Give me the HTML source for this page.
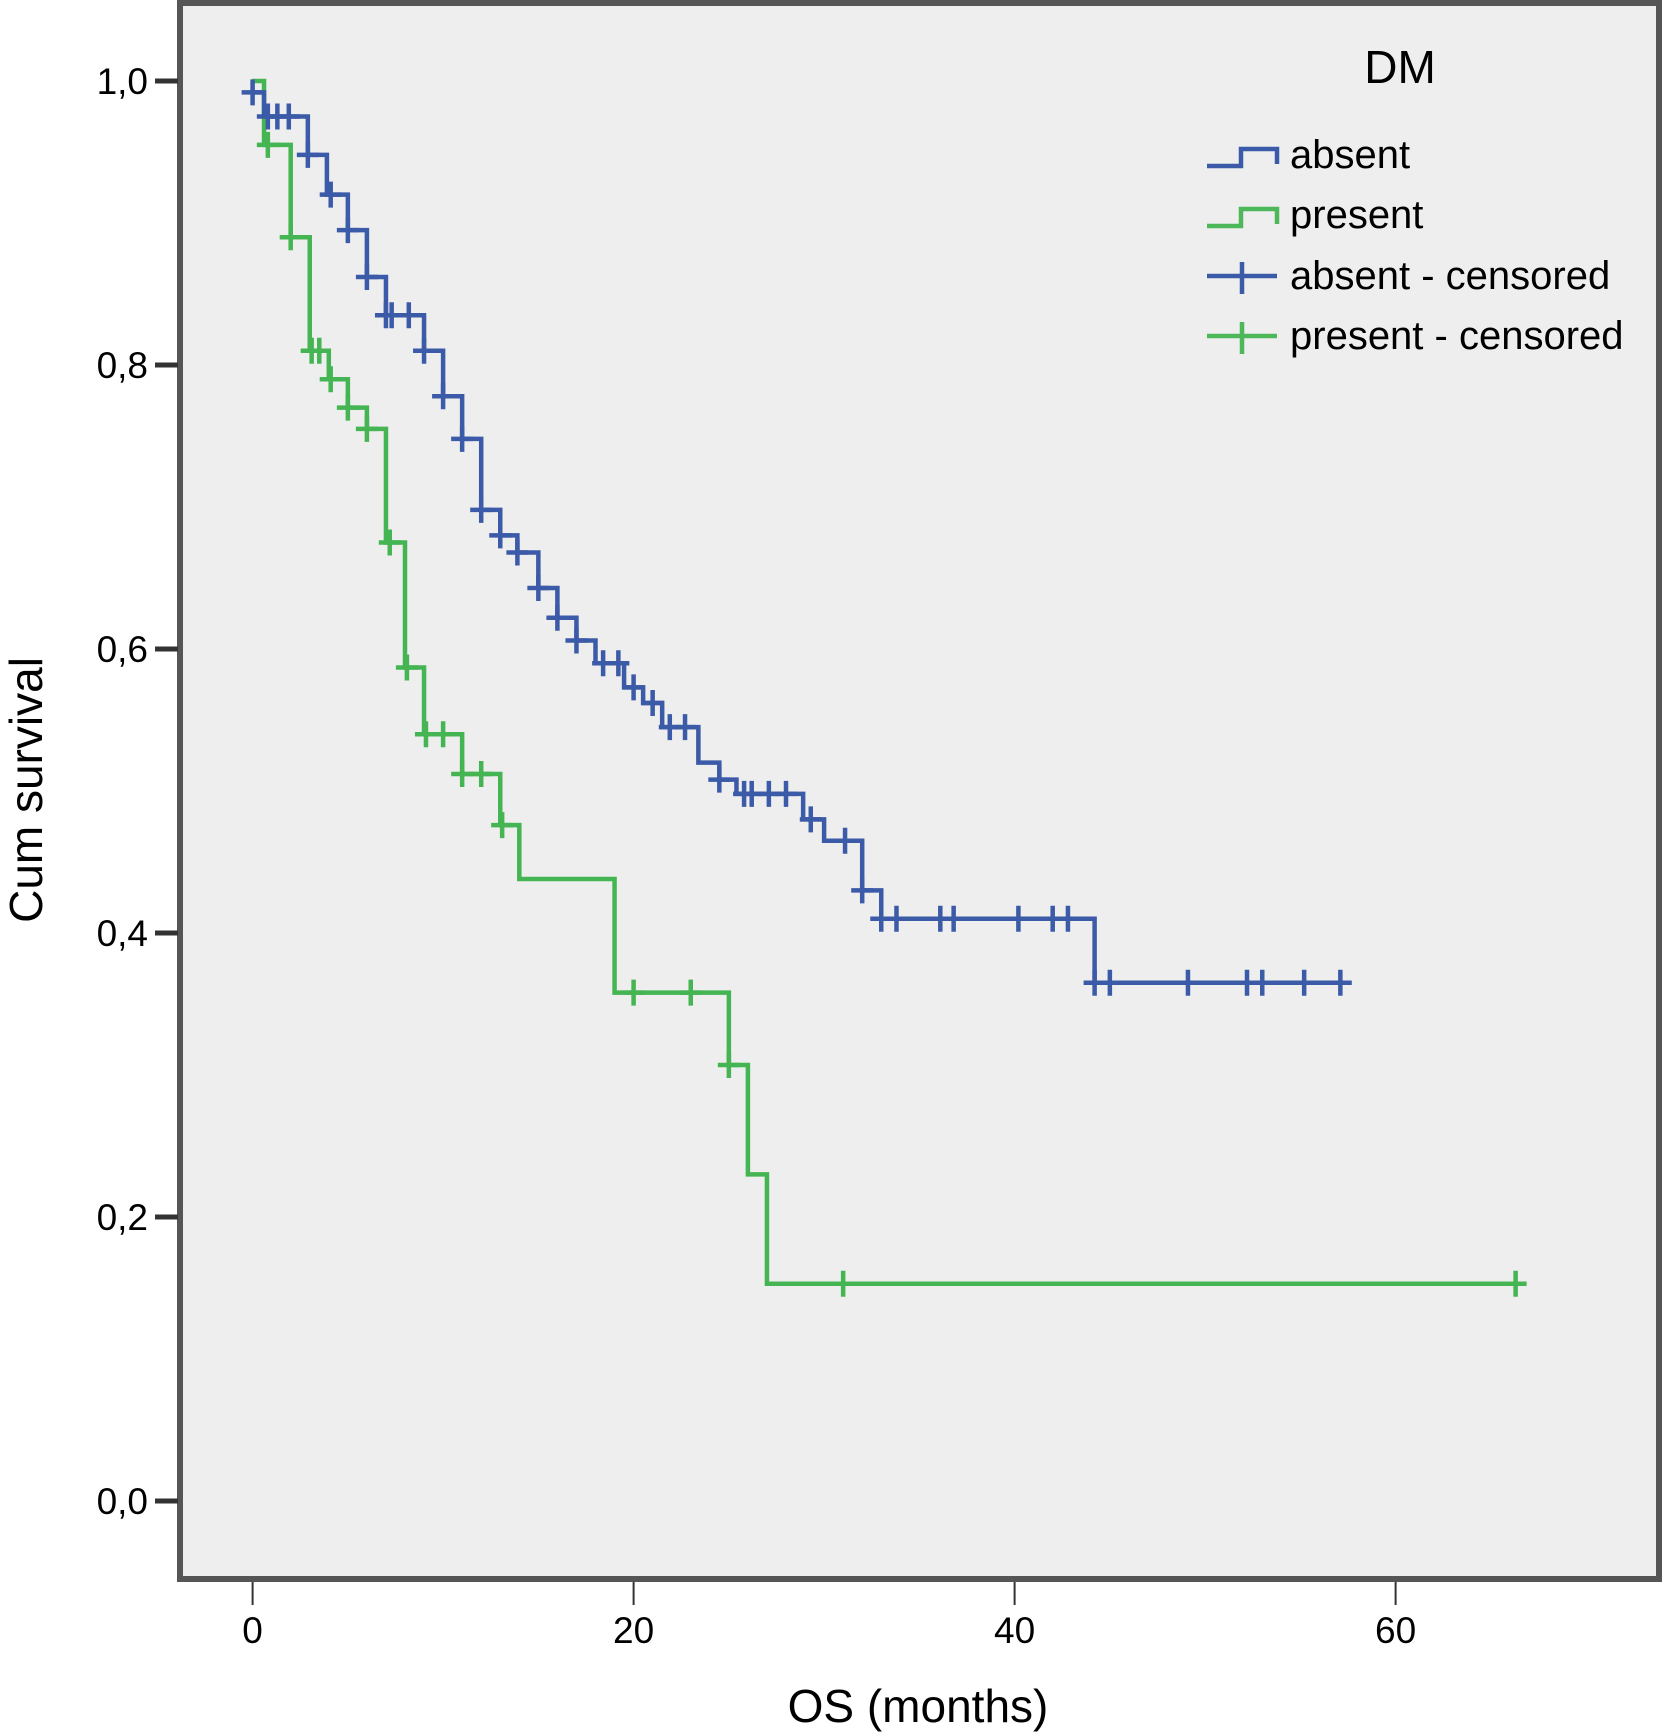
<!DOCTYPE html>
<html><head><meta charset="utf-8"><style>
body{margin:0;background:#fff}
svg{display:block;font-family:"Liberation Sans",sans-serif}
</style></head><body>
<svg id="chart" width="1664" height="1734" viewBox="0 0 1664 1734">
<rect x="180" y="3" width="1479" height="1576" fill="#eeeeee" stroke="#555" stroke-width="6"/>
<g id="axes"></g>
<g id="series"></g>
<text x="-790" y="42" transform="rotate(-90)" text-anchor="middle" font-size="46">Cum survival</text>
<text x="918" y="1722" text-anchor="middle" font-size="46">OS (months)</text>
<g>
<text x="1400" y="83" text-anchor="middle" font-size="46">DM</text>
<path d="M1207,166 H1241 V149 H1277 V164" fill="none" stroke="#3b5ba8" stroke-width="4.5"/>
<text x="1290" y="168" font-size="40">absent</text>
<path d="M1207,226 H1241 V209 H1277 V224" fill="none" stroke="#4cb85a" stroke-width="4.5"/>
<text x="1290" y="228" font-size="40">present</text>
<path d="M1207,276 H1277 M1242,262 V294" fill="none" stroke="#3b5ba8" stroke-width="4.5"/>
<text x="1290" y="289" font-size="40">absent - censored</text>
<path d="M1207,336 H1277 M1242,322 V354" fill="none" stroke="#4cb85a" stroke-width="4.5"/>
<text x="1290" y="349" font-size="40">present - censored</text>
</g>
</svg>
<script>
const xTicks=[0,20,40,60];
const yTicks=[0,0.2,0.4,0.6,0.8,1.0];
const yTickLabels=["0,0","0,2","0,4","0,6","0,8","1,0"];
const absentStart=0.992;
const absentTimes=[0.6,2.9,3.9,5.0,6.0,7.0,9.0,10.0,11.0,12.0,13.0,13.9,15.0,16.0,17.0,18.0,19.5,20.5,21.5,23.4,24.5,25.4,28.9,30.0,32.0,33.0,44.2];
const absentSurv=[0.975,0.948,0.92,0.895,0.862,0.835,0.81,0.778,0.748,0.698,0.68,0.668,0.643,0.622,0.606,0.59,0.573,0.562,0.545,0.52,0.508,0.498,0.48,0.465,0.43,0.41,0.365];
const absentCensored=[0,0.8,1.3,1.9,2.9,4.1,5,6,7,7.3,8.2,9,10,11,12,13,13.9,15,16,17,18.4,19.2,20,21,21.9,22.7,24.5,25.8,26.2,27.1,28,29.3,31.1,32,33,33.8,36.1,36.8,40.2,42,42.8,44.2,45,49.1,52.2,53,55.2,57.1];
const absentEnd=57.7;
const presentStart=1.0;
const presentTimes=[0.6,2,3,4,5,6,7,8,9,11,13,14,19,25,26,27];
const presentSurv=[0.955,0.89,0.81,0.79,0.77,0.755,0.675,0.587,0.54,0.512,0.476,0.438,0.358,0.307,0.23,0.153];
const presentCensored=[0.8,2,3.1,3.5,4.1,5,6,7.2,8.1,9.1,10,11,12,13.1,20,23,25,31,66.3];
const presentEnd=66.8;

const NS="http://www.w3.org/2000/svg";
function X(m){return 252.6+m*19.05;}
function Y(s){return 1501-s*1420;}
function mk(tag,attrs,parent){const e=document.createElementNS(NS,tag);for(const k in attrs)e.setAttribute(k,attrs[k]);parent.appendChild(e);return e;}
const axes=document.getElementById('axes');
xTicks.forEach(t=>{
  const l=mk('line',{x1:X(t),x2:X(t),y1:1582,y2:1605,stroke:'#333','stroke-width':2},axes);
  
  
  const tx=mk('text',{x:X(t),y:1643,'text-anchor':'middle','font-size':37},axes);
  tx.textContent=t;
  
  
});
yTicks.forEach((t,i)=>{
  const l=mk('line',{x1:155,x2:178,y1:Y(t),y2:Y(t),stroke:'#333','stroke-width':5},axes);
  
  
  const tx=mk('text',{x:148,y:Y(t)+13,'text-anchor':'end','font-size':37},axes);
  tx.textContent=yTickLabels[i];
  
  
});
function survAt(t,times,surv,start){let s=start;for(let i=0;i<times.length;i++){if(times[i]<=t)s=surv[i];}return s;}
const series=document.getElementById('series');
function draw(name,color,start,times,surv,cens,end){
  let d='M'+X(0)+','+Y(start);
  times.forEach((t,i)=>{d+=' H'+X(t)+' V'+Y(surv[i]);});
  d+=' H'+X(end);
  const p=mk('path',{d:d,fill:'none',stroke:color,'stroke-width':4.5},series);
  
  
  cens.forEach(c=>{
    const y=Y(survAt(c,times,surv,start));
    const m=mk('path',{d:'M'+(X(c)-11)+','+y+' H'+(X(c)+11)+' M'+X(c)+','+(y-13)+' V'+(y+13),stroke:color,'stroke-width':4.5,fill:'none'},series);
    
    
  });
}
draw('present','#44b552',presentStart,presentTimes,presentSurv,presentCensored,presentEnd);
draw('absent','#3b5ba8',absentStart,absentTimes,absentSurv,absentCensored,absentEnd);
</script>
</body></html>
